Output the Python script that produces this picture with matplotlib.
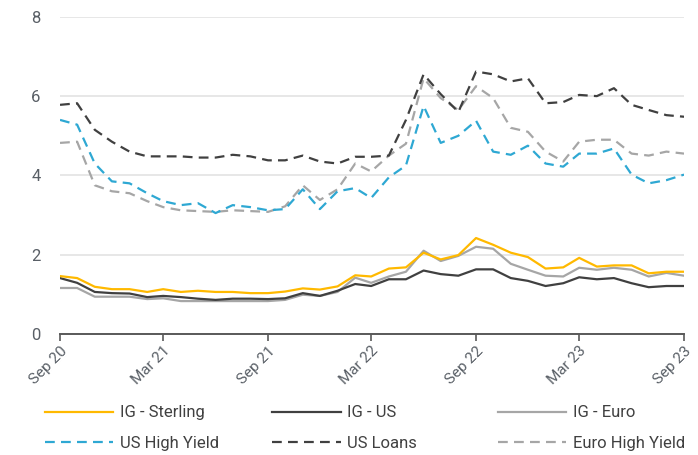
import numpy as np
import pandas as pd
import matplotlib
matplotlib.use("Agg")
import matplotlib.pyplot as plt

plt.rcParams["font.family"] = ["Roboto", "DejaVu Sans"]

# monthly observations, Sep 2020 - Sep 2023
dates = pd.date_range("2020-09-01", "2023-09-01", freq="MS")

ig_sterling = [1.46, 1.41, 1.19, 1.13, 1.13, 1.06, 1.13, 1.06, 1.09, 1.06, 1.06, 1.03, 1.03,
               1.07, 1.15, 1.12, 1.20, 1.48, 1.45, 1.65, 1.68, 2.05, 1.88, 1.99, 2.42, 2.25,
               2.05, 1.94, 1.65, 1.68, 1.92, 1.70, 1.73, 1.73, 1.53, 1.57, 1.57]
ig_us = [1.41, 1.29, 1.06, 1.03, 1.02, 0.93, 0.96, 0.93, 0.89, 0.86, 0.89, 0.89, 0.88,
         0.90, 1.03, 0.96, 1.09, 1.26, 1.21, 1.38, 1.38, 1.60, 1.51, 1.47, 1.63, 1.63,
         1.41, 1.34, 1.21, 1.28, 1.43, 1.38, 1.41, 1.28, 1.18, 1.21, 1.21]
ig_euro = [1.16, 1.16, 0.94, 0.94, 0.94, 0.88, 0.90, 0.83, 0.83, 0.83, 0.83, 0.83, 0.83,
           0.86, 0.99, 0.96, 1.06, 1.42, 1.29, 1.45, 1.57, 2.10, 1.84, 1.97, 2.20, 2.15,
           1.77, 1.62, 1.47, 1.45, 1.67, 1.62, 1.67, 1.62, 1.45, 1.54, 1.47]
us_high_yield = [5.40, 5.28, 4.30, 3.85, 3.80, 3.55, 3.35, 3.25, 3.30, 3.05, 3.25, 3.20, 3.12,
                 3.15, 3.65, 3.15, 3.60, 3.68, 3.43, 3.95, 4.25, 5.75, 4.82, 5.00, 5.38, 4.60,
                 4.52, 4.75, 4.30, 4.22, 4.55, 4.55, 4.68, 4.02, 3.80, 3.88, 4.02]
us_loans = [5.78, 5.82, 5.15, 4.85, 4.60, 4.48, 4.48, 4.48, 4.45, 4.45, 4.52, 4.48, 4.38,
            4.38, 4.50, 4.35, 4.30, 4.47, 4.47, 4.50, 5.40, 6.55, 6.05, 5.60, 6.62, 6.55,
            6.37, 6.45, 5.82, 5.85, 6.03, 6.00, 6.20, 5.78, 5.65, 5.52, 5.48]
euro_high_yield = [4.82, 4.85, 3.75, 3.60, 3.55, 3.35, 3.20, 3.12, 3.10, 3.08, 3.12, 3.10, 3.08,
                   3.22, 3.75, 3.38, 3.65, 4.30, 4.10, 4.50, 4.80, 6.45, 5.95, 5.65, 6.25, 5.95,
                   5.20, 5.10, 4.60, 4.35, 4.85, 4.90, 4.90, 4.55, 4.50, 4.60, 4.55]

tick_dates = pd.date_range("2020-09-01", "2023-09-01", freq="6MS")
tick_labels = ["Sep 20", "Mar 21", "Sep 21", "Mar 22", "Sep 22", "Mar 23", "Sep 23"]

YELLOW = "#FFB900"
DARK = "#404040"
LIGHT = "#A6A6A6"
BLUE = "#2EA8D3"
TEXT = "#595F66"

fig = plt.figure(figsize=(6.98, 4.55), dpi=100)
ax = fig.add_axes([0.086, 0.266, 0.894, 0.697])

lw = 1.6
dash = (4.4, 2.8)
series = {
    "IG - Sterling": (ig_sterling, YELLOW, None),
    "IG - US": (ig_us, DARK, None),
    "IG - Euro": (ig_euro, LIGHT, None),
    "US High Yield": (us_high_yield, BLUE, dash),
    "US Loans": (us_loans, DARK, dash),
    "Euro High Yield": (euro_high_yield, LIGHT, dash),
}
draw_order = ["IG - Euro", "IG - US", "IG - Sterling", "Euro High Yield", "US High Yield", "US Loans"]
handles = {}
for name in draw_order:
    vals, col, ds = series[name]
    if ds is None:
        h, = ax.plot(dates, vals, color=col, lw=lw, label=name, zorder=3)
    else:
        h, = ax.plot(dates, vals, color=col, lw=lw, dashes=ds, label=name, zorder=3)
    handles[name] = h

ax.set_ylim(0, 8)
ax.set_xlim(dates[0], dates[-1])
ax.set_yticks([0, 2, 4, 6, 8])
ax.set_xticks(tick_dates)
ax.set_xticklabels(tick_labels, rotation=45, ha="right", rotation_mode="anchor")
ax.grid(axis="y", color="#E3E3E3", lw=1.2, zorder=0)
ax.set_axisbelow(True)

for s in ["top", "right", "left"]:
    ax.spines[s].set_visible(False)
ax.spines["bottom"].set_color("#595959")
ax.spines["bottom"].set_linewidth(1.4)
ax.tick_params(axis="x", colors="#595959", length=5, width=1.2, labelcolor=TEXT,
               labelsize=11, pad=2)
ax.tick_params(axis="y", length=0, labelcolor=TEXT, labelsize=12, pad=14)

# legend: three columns placed by hand
cols = [("IG - Sterling", "US High Yield"), ("IG - US", "US Loans"), ("IG - Euro", "Euro High Yield")]
xs = [0.0645, 0.39, 0.713]
for x0, names in zip(xs, cols):
    leg = fig.legend([handles[n] for n in names], list(names), loc="upper left",
                     bbox_to_anchor=(x0, 0.109), frameon=False, fontsize=12,
                     handlelength=4.1, handletextpad=0.4, labelspacing=0.95,
                     borderaxespad=0, borderpad=0)
    for t in leg.get_texts():
        t.set_color("#404040")

fig.savefig("out.png", dpi=100)
